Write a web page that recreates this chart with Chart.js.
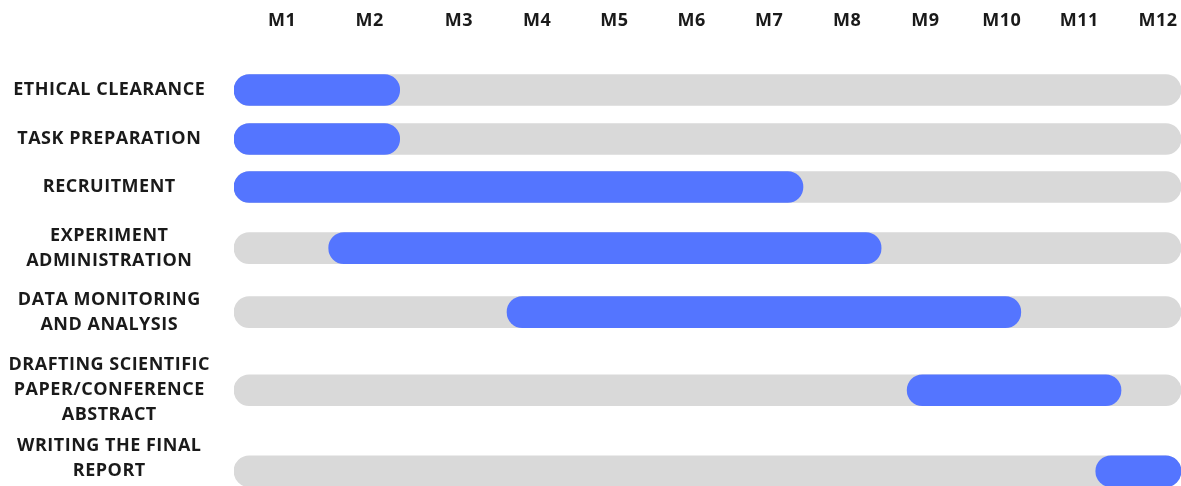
<!DOCTYPE html>
<html>
<head>
<meta charset="utf-8">
<script src="https://cdn.jsdelivr.net/npm/chart.js@4.4.0/dist/chart.umd.min.js"></script>
<style>
  html, body { margin: 0; padding: 0; background: #ffffff; }
  #wrap { width: 1181px; height: 486px; position: relative; }
</style>
</head>
<body>
<div id="wrap"><canvas id="c"></canvas></div>
<script>
// ---- data ----
const tasks = [
  'ETHICAL CLEARANCE',
  'TASK PREPARATION',
  'RECRUITMENT',
  ['EXPERIMENT', 'ADMINISTRATION'],
  ['DATA MONITORING', 'AND ANALYSIS'],
  ['DRAFTING SCIENTIFIC', 'PAPER/CONFERENCE', 'ABSTRACT'],
  ['WRITING THE FINAL', 'REPORT']
];
const taskStart = [0, 0, 0, 1.2, 3.46, 8.53, 10.92];
const taskEnd   = [2.1, 2.1, 7.21, 8.2, 9.97, 11.24, 12];
const rowPos    = [0, 1.01, 2.0, 3.26, 4.58, 6.19, 7.86];
const labelPos  = [0, 1.01, 2.0, 3.26, 4.58, 6.19, 7.6];
const monthLabels = ['M1','M2','M3','M4','M5','M6','M7','M8','M9','M10','M11','M12'];
const monthPos    = [0.61, 1.72, 2.85, 3.84, 4.82, 5.80, 6.78, 7.77, 8.76, 9.73, 10.71, 11.71];
const yearStart = 0, yearEnd = 12;

Chart.defaults.font.family = '"Open Sans", Lato, sans-serif';
Chart.defaults.color = '#1a1a1a';

const spacing = {
  id: 'spacing',
  beforeUpdate(chart) { chart.ctx.letterSpacing = '0.5px'; },
  beforeDraw(chart) { chart.ctx.letterSpacing = '0.5px'; }
};

new Chart(document.getElementById('c'), {
  type: 'bar',
  plugins: [spacing],
  data: {
    datasets: [
      {
        label: 'Task',
        data: rowPos.map((y, i) => ({ x: [taskStart[i], taskEnd[i]], y })),
        backgroundColor: '#5475ff',
        order: 0
      },
      {
        label: 'Year',
        data: rowPos.map(y => ({ x: [yearStart, yearEnd], y })),
        backgroundColor: '#d9d9d9',
        order: 1
      }
    ]
  },
  options: {
    indexAxis: 'y',
    responsive: true,
    maintainAspectRatio: false,
    animation: false,
    layout: { padding: 0 },
    datasets: {
      bar: {
        grouped: false,
        barThickness: 31,
        borderRadius: 16,
        borderSkipped: false
      }
    },
    plugins: { legend: { display: false }, tooltip: { enabled: false } },
    scales: {
      x: {
        type: 'linear',
        position: 'top',
        min: yearStart,
        max: yearEnd,
        offset: false,
        grid: { display: false, drawTicks: false },
        border: { display: false },
        afterBuildTicks: s => { s.ticks = monthPos.map(v => ({ value: v })); },
        afterFit: s => { s.height = 50; s.paddingLeft = 0; s.paddingRight = 0; },
        ticks: {
          autoSkip: false,
          maxRotation: 0,
          padding: 18,
          font: { size: 18, weight: 'bold' },
          callback: (v, i) => monthLabels[i]
        }
      },
      y: {
        type: 'linear',
        reverse: true,
        offset: false,
        min: -0.825,
        max: 8.165,
        grid: { display: false, drawTicks: false, offset: false },
        border: { display: false },
        afterBuildTicks: s => { s.ticks = labelPos.map(v => ({ value: v })); },
        afterFit: s => { s.width = 234; s.paddingTop = 0; s.paddingBottom = 0; },
        ticks: {
          autoSkip: false,
          crossAlign: 'center',
          padding: 24,
          font: { size: 18, weight: 'bold', lineHeight: 1.39 },
          callback: (v, i) => tasks[i]
        }
      }
    }
  }
});
</script>
</body>
</html>
